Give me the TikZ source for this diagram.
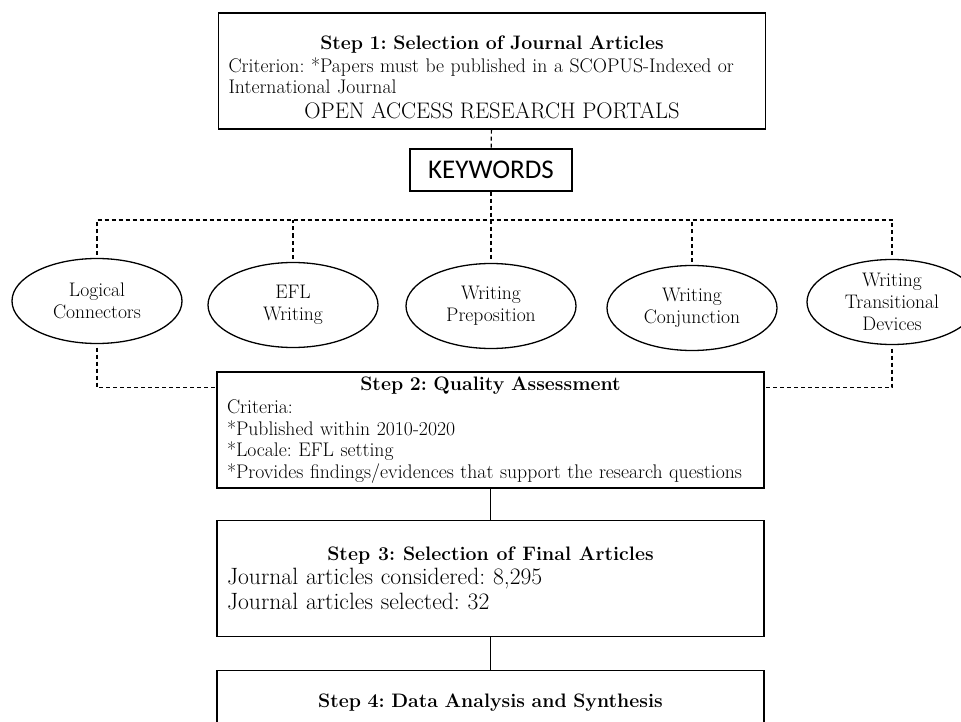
\documentclass[tikz,border=0pt]{standalone}
\usepackage{fontspec}
\newfontfamily\kwfamily{Carlito}
\usepackage{tikz}
\usetikzlibrary{shapes,positioning,calc}
\newcommand{\fbody}{\fontsize{19.7}{21.5}\selectfont}
\newcommand{\fbig}{\fontsize{23.6}{24.5}\selectfont}
\newcommand{\fhead}{\fontsize{22.5}{24}\selectfont}
\newcommand{\ftitle}{\fontsize{19.5}{22}\selectfont\bfseries}
\newcommand{\ftopic}{\fontsize{19.6}{22}\selectfont}
\newcommand{\fkw}{\kwfamily\fontsize{27}{30}\selectfont}
\newcommand{\steptitle}[1]{\hfill{\ftitle #1}\hfill\null}
\tikzset{
	every node/.style = { align = center, draw, line width=1.3pt },
	stepbox/.style = { rectangle, minimum width=547pt, minimum height=116pt, text width=527pt, inner xsep=10pt, inner ysep=4pt, align=left, font=\fbody },
	kwbox/.style = { rectangle, minimum width=162pt, minimum height=42pt, font=\fkw },
	topic/.style = { ellipse, minimum width=170pt, minimum height=85pt, inner sep=0pt, outer sep=4pt, font=\ftopic },
	dashlink/.style = { line width=1.2pt, dash pattern=on 4pt off 3pt },
	solidlink/.style = { line width=1.2pt },
}

\begin{document}
\frenchspacing
\begin{tikzpicture}[x=1pt,y=1pt,node distance=20pt]
\useasboundingbox (0,0) rectangle (961,-722);

\node (s1)  [stepbox] at (492,-71) {\steptitle{\rule{0pt}{26pt}Step 1: Selection of Journal Articles}\\[1pt]
Criterion: *Papers must be published in a SCOPUS-Indexed or\\
International Journal\\[3pt]
\hfill{\fhead OPEN ACCESS RESEARCH PORTALS}\hfill\null};

\node (kw)  [kwbox] at (491,-170) {KEYWORDS};

% keywords
\node (e1)  [topic] at (97,-301)  {Logical\\Connectors};
\node (e2)  [topic] at (293,-305) {EFL\\Writing};
\node (e3)  [topic] at (491,-306) {Writing\\Preposition};
\node (e4)  [topic] at (692,-308) {Writing\\Conjunction};
\node (e5)  [topic] at (892,-302) {Writing\\Transitional\\Devices};
\coordinate (bus) at (0,-220);

\node (s2)  [stepbox] at (490.5,-430) {\steptitle{Step 2: Quality Assessment}\\[2pt]
Criteria:\\{}
*Published within 2010-2020\\{}
*Locale: EFL setting\\{}
*Provides findings/evidences that support the research questions};

\node (s3)  [stepbox,below=31pt of s2,font=\fbig] {\steptitle{Step 3: Selection of Final Articles}\\
Journal articles considered: 8,295\\
Journal articles selected: 32};

\node (s4)  [stepbox,below=33pt of s3,text depth=55pt] {\steptitle{Step 4: Data Analysis and Synthesis}};

\coordinate (s2l) at ($(s2.north west)+(0,-16)$);
\coordinate (s2r) at ($(s2.north east)+(0,-16)$);

\draw[dashlink] (s1) -- (kw);
\draw[dashlink] (kw) -- (e3);
\draw[dashlink] (e1) |- (e5.north|-bus) -- (e5);
\draw[dashlink] (e2) -- (e2|-bus);
\draw[dashlink] (e4) -- (e4|-bus);
\draw[dashlink] (e1) |- (s2l);
\draw[dashlink] (e5) |- (s2r);
\draw[solidlink] (s2) -- (s3);
\draw[solidlink] (s3) -- (s4);

\end{tikzpicture}
\end{document}
